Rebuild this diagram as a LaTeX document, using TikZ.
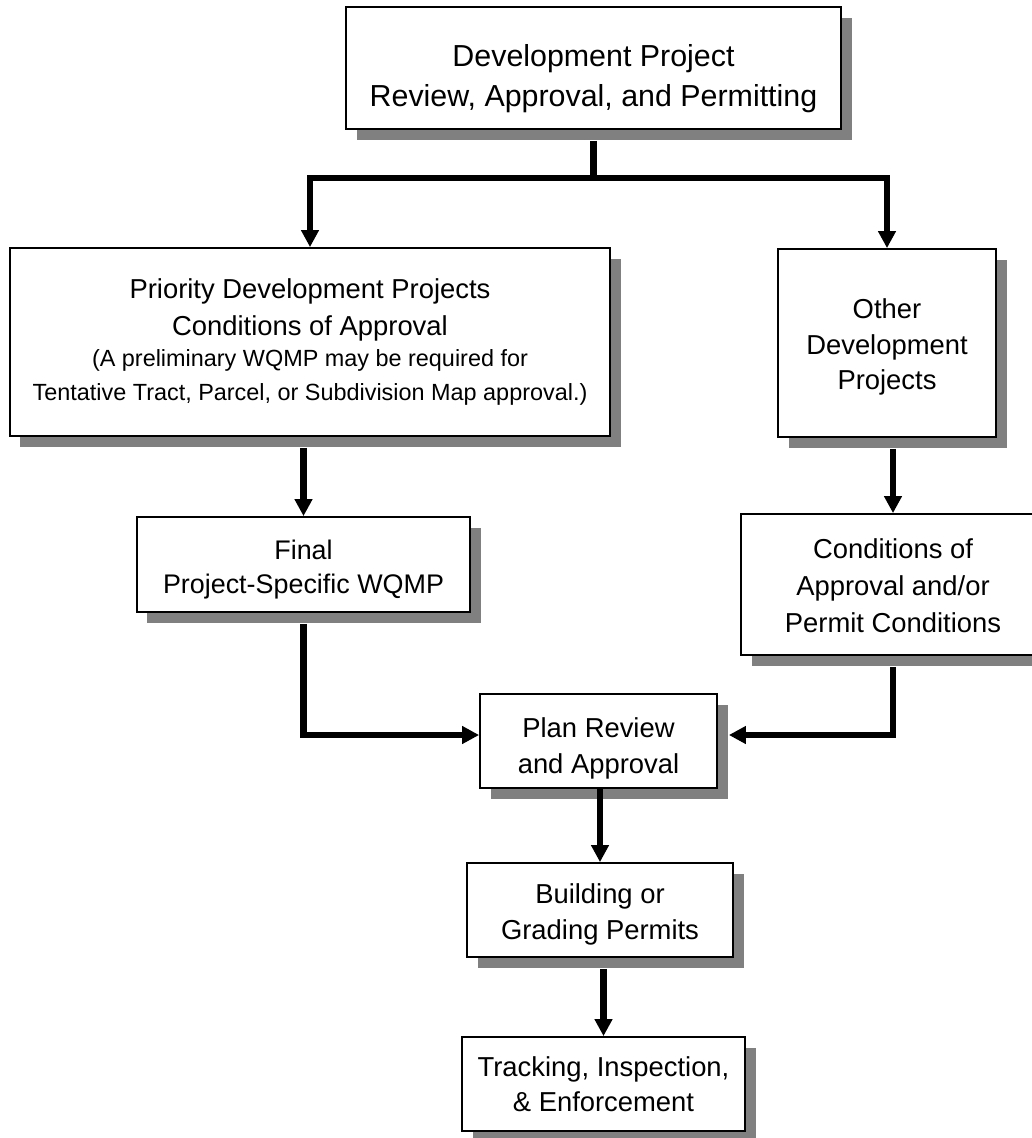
\documentclass[tikz,border=0pt]{standalone}
\usepackage{fontspec}
\setmainfont{Liberation Sans}
\usetikzlibrary{arrows.meta,calc,shadows}
\tikzset{
 box/.style={draw=black, line width=1.8bp, fill=white, inner sep=0pt,
   drop shadow={shadow xshift=10.5bp, shadow yshift=-10.5bp, fill=black!50, opacity=1}},
 lbl/.style={align=center, inner sep=0pt, font=\fontsize{27.5}{36}\selectfont},
 conn/.style={line width=6.5bp},
 arr/.style={conn, -{Triangle[length=17bp,width=17bp]}},
}
\begin{document}
\begin{tikzpicture}[x=1bp,y=1bp]
\useasboundingbox (0,0) rectangle (1032,-1138);
\clip (0,0) rectangle (1032,-1138);
\fill[white] (0,0) rectangle (1032,-1138);

\node[box, minimum width=495bp, minimum height=122bp,
  label={[lbl, name=topl, font=\fontsize{30.5}{40}\selectfont, yshift=-11bp]center:{Development Project\\Review, Approval, and Permitting}}]
  (top) at (593.5,-68) {};

\node[box, minimum width=600bp, minimum height=188bp,
  label={[lbl, name=priol, font=\fontsize{27.5}{36}\selectfont]center:{Priority Development Projects\\[1bp]Conditions of Approval\\[-4bp]{\fontsize{23.5}{30}\selectfont (A preliminary WQMP may be required for}\\[-2bp]{\fontsize{23.5}{30}\selectfont Tentative Tract, Parcel, or Subdivision Map approval.)}}}]
  (prio) at (310,-342) {};

\node[box, minimum width=218bp, minimum height=188bp,
  label={[lbl, name=otherl, yshift=-4bp]center:{Other\\Development\\Projects}}]
  (other) at (887,-343) {};

\node[box, minimum width=333bp, minimum height=95bp,
  label={[lbl, name=finall, font=\fontsize{27}{34}\selectfont, yshift=-5bp]center:{Final\\Project-Specific WQMP}}]
  (final) at (303.5,-564.5) {};

\node[box, minimum width=304bp, minimum height=141bp,
  label={[lbl, name=condl, font=\fontsize{27.5}{37}\selectfont, yshift=-1bp]center:{Conditions of\\Approval and/or\\Permit Conditions}}]
  (cond) at (893,-584.5) {};

\node[box, minimum width=237bp, minimum height=94bp,
  label={[lbl, name=planl, yshift=-7bp]center:{Plan Review\\and Approval}}]
  (plan) at (598.5,-741) {};

\node[box, minimum width=266bp, minimum height=94bp,
  label={[lbl, name=bldl, yshift=-4.5bp]center:{Building or\\Grading Permits}}]
  (bld) at (600,-910) {};

\node[box, minimum width=283bp, minimum height=94bp,
  label={[lbl, name=trkl, font=\fontsize{27.5}{35}\selectfont]center:{Tracking, Inspection,\\\& Enforcement}}]
  (trk) at (603.5,-1084) {};

% connectors
\coordinate (tbot) at ($(top.south)+(0,-11)$);
\coordinate (split) at ($(top.south)+(0,-48)$);
\draw[conn] (tbot) -- (split);
\draw[arr] (split) -| (prio.north);
\draw[arr] (split) -| (other.north);

\coordinate (pbot) at ($(prio.south)+(0,-11)$);
\draw[arr] (final.north |- pbot) -- (final.north);

\coordinate (obot) at ($(other.south)+(0,-11)$);
\draw[arr] (cond.north |- obot) -- (cond.north);

\coordinate (fbot) at ($(final.south)+(0,-11)$);
\draw[arr] (fbot) |- ([yshift=6bp]plan.west);

\coordinate (cbot) at ($(cond.south)+(0,-11)$);
\draw[arr] (cbot) |- ([xshift=11bp,yshift=6bp]plan.east);

\draw[arr] (bld.north |- plan.south) -- (bld.north);

\coordinate (bbot) at ($(bld.south)+(0,-11)$);
\draw[arr] (trk.north |- bbot) -- (trk.north);
\end{tikzpicture}
\end{document}
